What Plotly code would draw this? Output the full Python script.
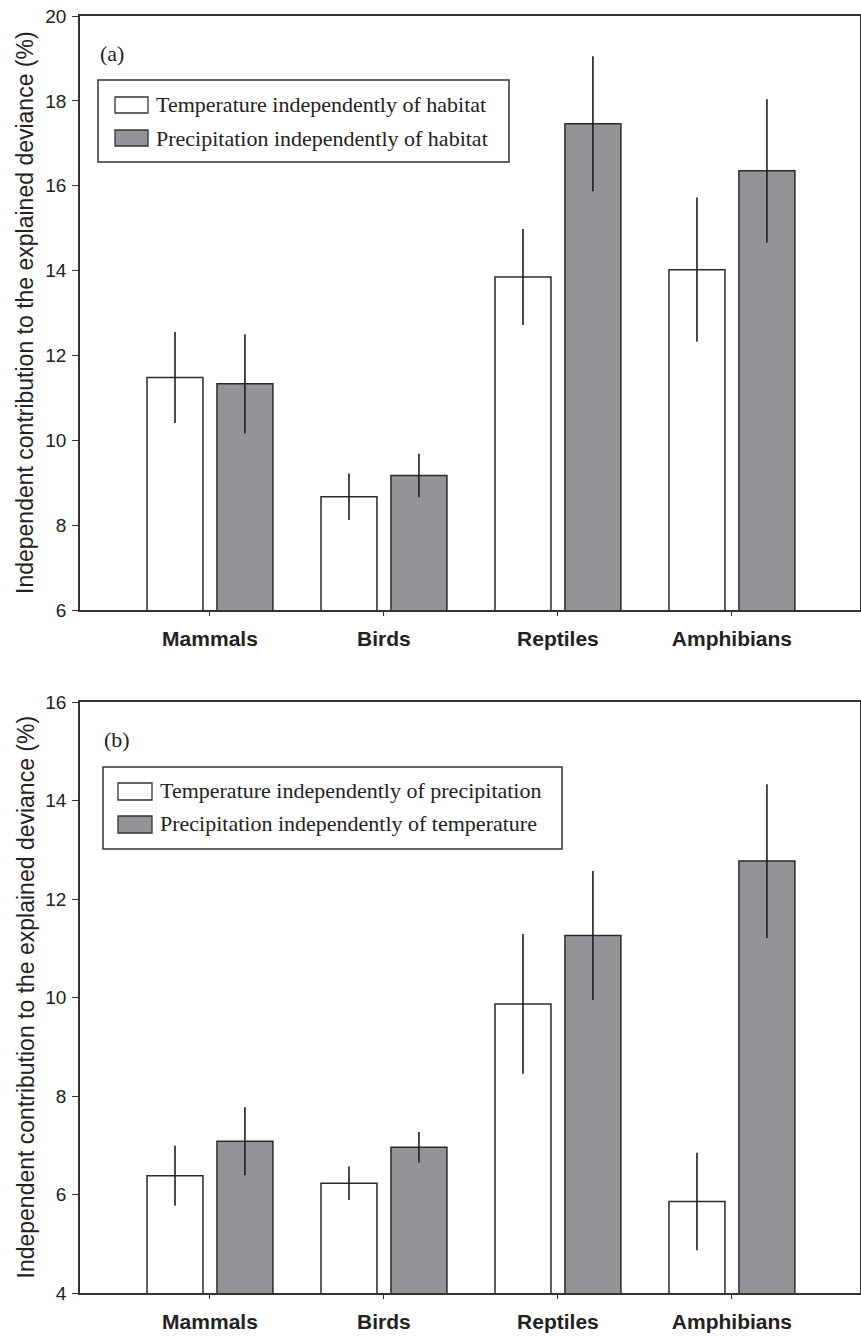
import plotly.graph_objects as go

categories = ["Mammals", "Birds", "Reptiles", "Amphibians"]

# Panel (a)
temp_a = [11.48, 8.67, 13.85, 14.02]
temp_a_err = [1.07, 0.55, 1.13, 1.70]
precip_a = [11.33, 9.17, 17.46, 16.35]
precip_a_err = [1.17, 0.51, 1.59, 1.69]

# Panel (b)
temp_b = [6.38, 6.23, 9.87, 5.86]
temp_b_err = [0.61, 0.34, 1.42, 0.99]
precip_b = [7.08, 6.96, 11.26, 12.77]
precip_b_err = [0.69, 0.31, 1.31, 1.56]

legend_a = ["Temperature independently of habitat", "Precipitation independently of habitat"]
legend_b = ["Temperature independently of precipitation", "Precipitation independently of temperature"]
y_title = "Independent contribution to the explained deviance (%)"

W, H = 861, 1336
L, R, T, B = 80, 1, 16, 43
plot_h = H - T - B

def py(ypix):
    return (H - B - ypix) / plot_h

def px(xpix):
    return (xpix - L) / (W - L - R)

WHITE = "#ffffff"
GRAY = "#939497"
EDGE = "#2a2a2a"

def err(arr):
    return dict(type="data", array=arr, visible=True, width=0, thickness=1.6, color="#1e1e1e")

fig = go.Figure()
fig.add_trace(go.Bar(x=categories, y=temp_a, error_y=err(temp_a_err), marker=dict(color=WHITE, line=dict(color=EDGE, width=1.5)), xaxis="x", yaxis="y", showlegend=False))
fig.add_trace(go.Bar(x=categories, y=precip_a, error_y=err(precip_a_err), marker=dict(color=GRAY, line=dict(color=EDGE, width=1.5)), xaxis="x", yaxis="y", showlegend=False))
fig.add_trace(go.Bar(x=categories, y=temp_b, error_y=err(temp_b_err), marker=dict(color=WHITE, line=dict(color=EDGE, width=1.5)), xaxis="x2", yaxis="y2", showlegend=False))
fig.add_trace(go.Bar(x=categories, y=precip_b, error_y=err(precip_b_err), marker=dict(color=GRAY, line=dict(color=EDGE, width=1.5)), xaxis="x2", yaxis="y2", showlegend=False))

sans = "Liberation Sans, Arial, sans-serif"
tickfont = dict(family=sans, size=19, color="#222")
xfont = dict(family=sans, size=21, color="#222")
xrange = [-0.747, 3.736]

xcommon = dict(type="category", range=xrange, showline=True, linecolor="#333", linewidth=1.5, mirror=True,
               ticks="outside", ticklen=4, tickcolor="#333", tickfont=xfont, showgrid=False, zeroline=False,
               ticklabelstandoff=5, automargin=False)
ycommon = dict(showline=True, linecolor="#333", linewidth=1.5, mirror=True, ticks="outside", ticklen=6,
               tickcolor="#333", tickfont=tickfont, showgrid=False, zeroline=False, dtick=2,
               ticklabelstandoff=2, automargin=False)

fig.update_layout(
    width=W, height=H,
    margin=dict(l=L, r=R, t=T, b=B),
    paper_bgcolor="white", plot_bgcolor="white",
    barmode="group", bargap=0.196, bargroupgap=0.2,
    xaxis=dict(domain=[0, 1], anchor="y", tickvals=categories, ticktext=[f"<b>{c}</b>" for c in categories], **xcommon),
    yaxis=dict(domain=[py(610), py(16)], anchor="x", range=[6, 20], **ycommon),
    xaxis2=dict(domain=[0, 1], anchor="y2", tickvals=categories, ticktext=[f"<b>{c}</b>" for c in categories], **xcommon),
    yaxis2=dict(domain=[py(1293), py(702)], anchor="x2", range=[4, 16], **ycommon),
)

serif = dict(family="Liberation Serif, Times New Roman, serif", size=22, color="#222")
shapes = []
annotations = []

def add_legend(box, rects, text_x, text_ys, labels, tag, tag_xy):
    x0, y0, x1, y1 = box
    shapes.append(dict(type="rect", xref="paper", yref="paper", x0=px(x0), x1=px(x1), y0=py(y1), y1=py(y0),
                       line=dict(color="#333", width=1.5), fillcolor="white", layer="above"))
    for (rx0, ry0, rx1, ry1), fill in zip(rects, [WHITE, GRAY]):
        shapes.append(dict(type="rect", xref="paper", yref="paper", x0=px(rx0), x1=px(rx1), y0=py(ry1), y1=py(ry0),
                           line=dict(color="#333", width=1.3), fillcolor=fill, layer="above"))
    for ty, lab in zip(text_ys, labels):
        annotations.append(dict(xref="paper", yref="paper", x=px(text_x), y=py(ty), text=lab, showarrow=False,
                                xanchor="left", yanchor="middle", font=serif))
    annotations.append(dict(xref="paper", yref="paper", x=px(tag_xy[0]), y=py(tag_xy[1]), text=tag, showarrow=False,
                            xanchor="left", yanchor="middle", font=serif))

add_legend((98, 80, 509, 162), [(115, 97, 148, 113), (115, 130, 148, 146)], 154, [104, 138], legend_a, "(a)", (98, 53))
add_legend((103, 767, 562, 849), [(118, 783, 152, 800), (118, 816, 152, 833)], 158, [790, 823], legend_b, "(b)", (102, 739))

for y0, y1 in [(16, 610), (702, 1293)]:
    annotations.append(dict(xref="paper", yref="paper", x=px(25), y=py((y0 + y1) / 2), text=y_title,
                            textangle=-90, showarrow=False, xanchor="center", yanchor="middle",
                            font=dict(family=sans, size=23, color="#222")))

fig.update_layout(shapes=shapes, annotations=annotations)
fig.write_html("out.html", config={"displayModeBar": False},
               post_script="document.body.style.margin='0';document.body.style.padding='0';")
